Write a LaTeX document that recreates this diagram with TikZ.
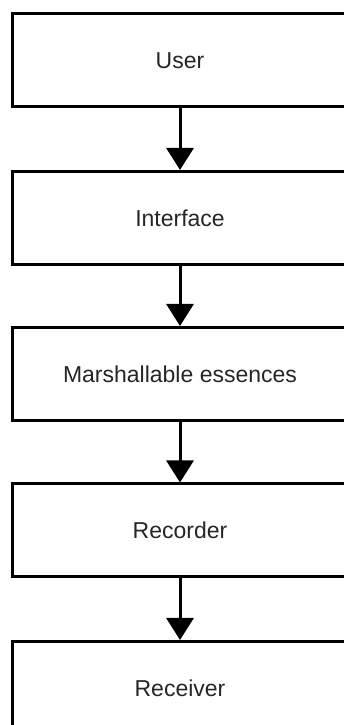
\documentclass[tikz,border=0pt]{standalone}
\usepackage{fontspec}
\setmainfont{Liberation Sans}
\usetikzlibrary{arrows.meta}
\begin{document}
\begin{tikzpicture}[x=1pt,y=1pt,
  box/.style={draw=black,line width=3pt,fill=white,minimum width=335pt,minimum height=93pt,inner sep=0pt,font=\fontsize{23}{27}\selectfont,text=black!85},
  flow/.style={line width=3pt,-{Triangle[width=27pt,length=22pt]}}]
\useasboundingbox (0,0) rectangle (344,725);
\clip (0,0) rectangle (344,725);
\node[box] (user) at (180,664.5) {User};
\node[box] (iface) at (180,507) {Interface};
\node[box] (marsh) at (180,351) {Marshallable essences};
\node[box] (rec) at (180,194.5) {Recorder};
\node[box] (recv) at (180,37) {Receiver};
\draw[flow] (user.south) -- (iface.north);
\draw[flow] (iface.south) -- (marsh.north);
\draw[flow] (marsh.south) -- (rec.north);
\draw[flow] (rec.south) -- (recv.north);
\end{tikzpicture}
\end{document}
